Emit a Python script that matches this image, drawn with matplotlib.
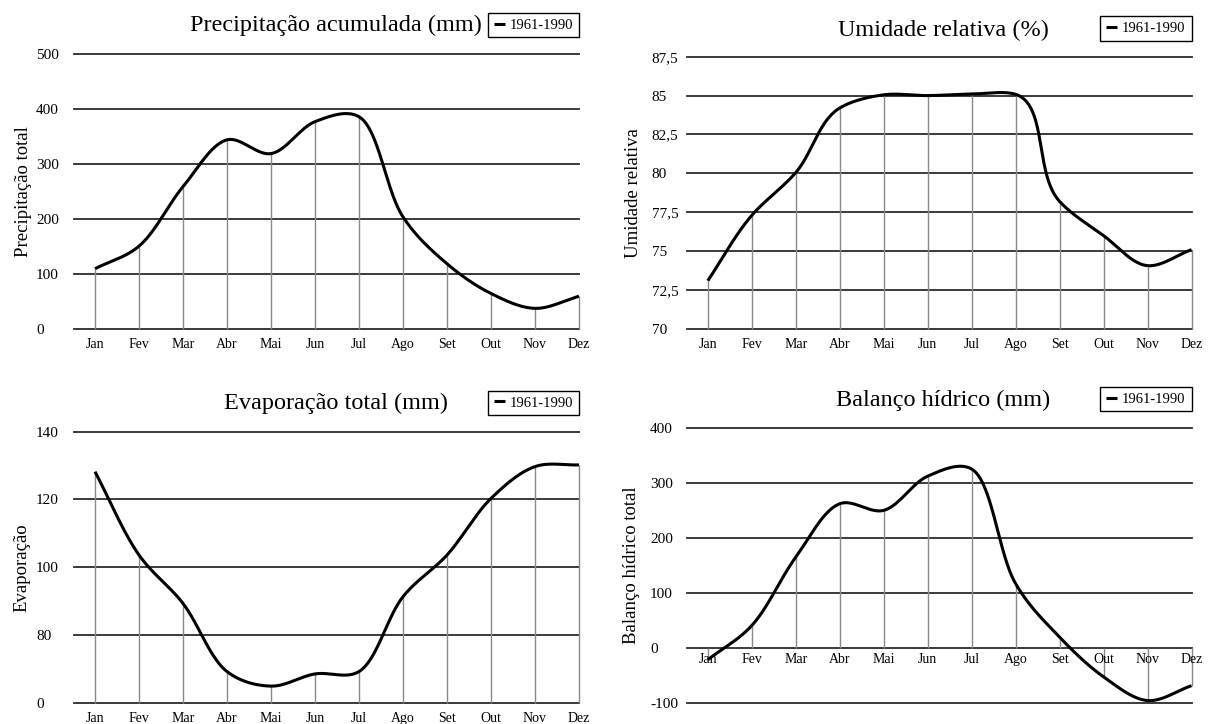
"""Climate normals 1961-1990: four monthly panels with smoothed lines."""

import numpy as np
import matplotlib

matplotlib.use("Agg")
import matplotlib.pyplot as plt

plt.rcParams["font.family"] = ["Liberation Serif", "DejaVu Serif"]

MONTHS = ["Jan", "Fev", "Mar", "Abr", "Mai", "Jun", "Jul", "Ago", "Set", "Out", "Nov", "Dez"]
SERIES_LABEL = "1961-1990"

PRECIP = [110, 151, 259, 344, 319, 377, 386, 204, 119, 65, 38, 60]
HUMIDITY = [73.1, 77.3, 80.05, 84.2, 85.05, 85.0, 85.1, 85.08, 78.2, 76.0, 74.07, 75.1]
# the evaporation panel uses a broken axis: the bottom gridline (drawn at 60) is labelled "0"
EVAP = [128.2, 103.6, 89.3, 69.2, 64.9, 68.5, 69.2, 91.3, 103.6, 120.3, 129.7, 130.2]
BALANCE = [-21, 41, 165, 262, 250, 312, 325, 117, 20, -52, -95, -68]

GRID_COLOR = "#2b2b2b"
DROP_COLOR = "#8a8a8a"


def smooth_px(ax, x, y, alpha=0.5, n=60):
    # Catmull-Rom through the points, worked out in screen pixels;
    # alpha sets the knot spacing (0 uniform, 0.5 centripetal, 1 chordal)
    pts = ax.transData.transform(np.column_stack([x, y]).astype(float))
    first = 2 * pts[0] - pts[1]
    last = 2 * pts[-1] - pts[-2]
    ext = np.vstack([first, pts, last])
    t = np.linspace(0.0, 1.0, n)[:, None]
    out = []
    for i in range(len(pts) - 1):
        p0, p1, p2, p3 = ext[i], ext[i + 1], ext[i + 2], ext[i + 3]
        k0 = np.hypot(*(p1 - p0)) ** alpha
        k1 = np.hypot(*(p2 - p1)) ** alpha
        k2 = np.hypot(*(p3 - p2)) ** alpha
        a = (p1 - p0) / k0
        b = (p2 - p1) / k1
        c = (p3 - p2) / k2
        m1 = (a * k1 + b * k0) / (k0 + k1)
        m2 = (b * k2 + c * k1) / (k1 + k2)
        c1 = p1 + m1 * k1 / 3.0
        c2 = p2 - m2 * k1 / 3.0
        seg = (1 - t) ** 3 * p1 + 3 * (1 - t) ** 2 * t * c1 + 3 * (1 - t) * t ** 2 * c2 + t ** 3 * p2
        out.append(seg if i == 0 else seg[1:])
    return ax.transData.inverted().transform(np.vstack(out))


def panel(fig, rect, values, yticks, ylabels, ylim, base, title, ylabel,
          title_xy, legend_y, ylabel_x, ypad, xpad, alpha=0.5):
    ax = fig.add_axes(rect)
    x = np.arange(len(MONTHS))
    for s in ax.spines.values():
        s.set_visible(False)

    ax.set_xlim(-0.478, 11.0)
    ax.set_ylim(*ylim)

    for yv in yticks:
        ax.axhline(yv, color=GRID_COLOR, lw=1.3, zorder=1, clip_on=False)
    ax.vlines(x, base, values, color=DROP_COLOR, lw=1.0, zorder=1, clip_on=False)

    curve = smooth_px(ax, x, values, alpha=alpha)
    ax.plot(curve[:, 0], curve[:, 1], color="black", lw=2.2, zorder=3,
            solid_capstyle="butt", label=SERIES_LABEL, clip_on=False)

    ax.set_yticks(yticks)
    ax.set_yticklabels(ylabels, fontsize=11, ha="left")
    ax.set_xticks(x)
    ax.set_xticklabels(MONTHS, fontsize=11)
    ax.spines["bottom"].set_position(("data", base))
    ax.tick_params(axis="both", length=0)
    ax.tick_params(axis="x", pad=xpad)
    ax.tick_params(axis="y", pad=ypad)

    ax.set_ylabel(ylabel, fontsize=13.5)
    ax.yaxis.set_label_coords(ylabel_x, 0.5)

    ax.text(title_xy[0], title_xy[1], title, transform=ax.transAxes,
            ha="center", va="center", fontsize=17.5)
    leg = ax.legend(loc="center right", bbox_to_anchor=(1.0, legend_y),
                    fontsize=10.5, handlelength=0.75, handletextpad=0.35,
                    borderpad=0.4, borderaxespad=0, fancybox=False,
                    frameon=True, framealpha=1)
    leg.get_frame().set_edgecolor("black")
    leg.get_frame().set_linewidth(1.0)
    return ax


def main() -> None:
    fig = plt.figure(figsize=(12.11, 7.24), dpi=100)

    panel(fig, [0.0611, 0.5452, 0.4170, 0.3803], PRECIP,
          [0, 100, 200, 300, 400, 500], ["0", "100", "200", "300", "400", "500"],
          (0, 500), 0, "Precipitação acumulada (mm)", "Precipitação total",
          (0.519, 1.102), 1.105, -0.0838, 27.4, 6.5)

    hum_ticks = [70, 72.5, 75, 77.5, 80, 82.5, 85, 87.5]
    panel(fig, [0.5671, 0.5456, 0.4168, 0.3761], HUMIDITY,
          hum_ticks, ["70", "72,5", "75", "77,5", "80", "82,5", "85", "87,5"],
          (70, 87.5), 70, "Umidade relativa (%)", "Umidade relativa",
          (0.508, 1.098), 1.103, -0.0891, 25.2, 6.5, alpha=1.0)

    panel(fig, [0.0611, 0.0294, 0.4170, 0.3743], EVAP,
          [60, 80, 100, 120, 140], ["0", "80", "100", "120", "140"],
          (60, 140), 60, "Evaporação total (mm)", "Evaporação",
          (0.519, 1.106), 1.106, -0.0871, 27.4, 6.5)

    panel(fig, [0.5671, 0.0286, 0.4168, 0.3807], BALANCE,
          [-100, 0, 100, 200, 300, 400], ["-100", "0", "100", "200", "300", "400"],
          (-100, 400), 0, "Balanço hídrico (mm)", "Balanço hídrico total",
          (0.508, 1.100), 1.104, -0.0925, 26.4, 3.3)

    fig.savefig("out.png", dpi=100)
    plt.close(fig)


if __name__ == "__main__":
    main()
